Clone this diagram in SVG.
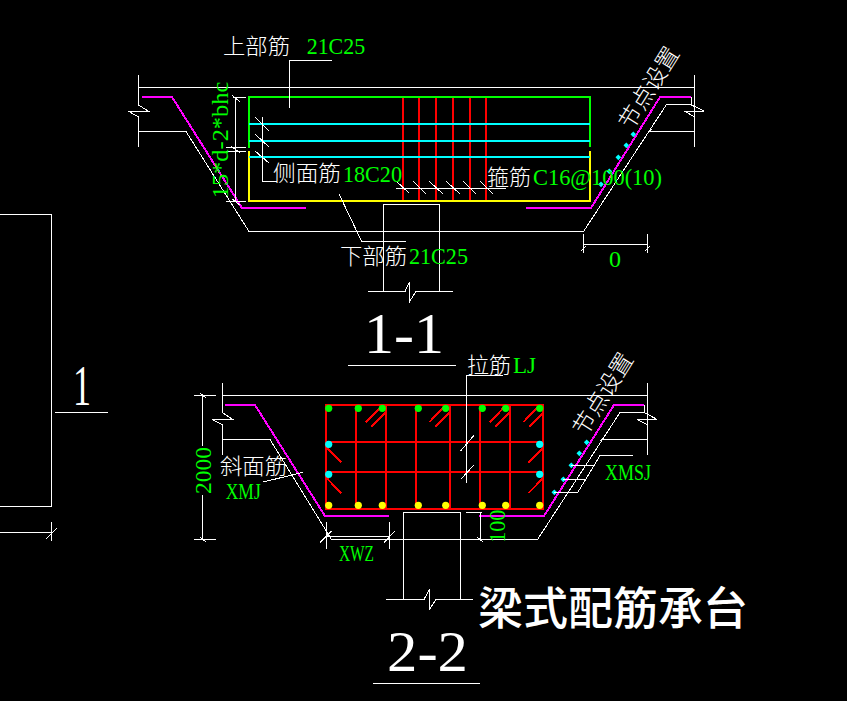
<svg xmlns="http://www.w3.org/2000/svg" width="847" height="701" viewBox="0 0 847 701">
<style>
path{shape-rendering:crispEdges}
.w{fill:none;stroke:#fff;stroke-width:1}
.m{fill:none;stroke:#f0f;stroke-width:2}
.r{fill:none;stroke:#f00;stroke-width:2}
.g{fill:none;stroke:#0f0;stroke-width:2}
.y{fill:none;stroke:#ff0;stroke-width:2}
.c{fill:none;stroke:#0ff;stroke-width:2}
.cn{font-family:"Noto Sans CJK SC","Noto Sans",sans-serif;fill:#fff;font-size:22px;font-weight:300}
.gt{font-family:"Liberation Serif",serif;fill:#0f0;font-size:24px}
.big{font-family:"Liberation Serif",serif;fill:#fff;font-size:56px}
</style>
<defs>
<circle id="dg" r="3.6" fill="#0f0"/>
<circle id="dy" r="3.6" fill="#ff0"/>
<circle id="dc" r="3.6" fill="#0ff"/>
<rect id="dd" x="-2" y="-2" width="4" height="4" fill="#0ff" transform="rotate(45)"/>
</defs>
<rect width="847" height="701" fill="#000"/>

<g id="left-column">
<path class="w" d="M0 214.500H51.500V506.500H0M0 532.500H51.500M51.500 522V541M46 539L57 528"/>
<path class="w" d="M55 412.500H108"/>
<text class="big" x="73" y="404.500" textLength="18" lengthAdjust="spacingAndGlyphs">1</text>
</g>

<g id="section-1-1">
<path class="w" d="M139 87.500H694.500M138.500 75V105L148 111H128L138.500 117V147M138.500 131.500H186L249 231.500H583.500L666.500 104.500H691.500M691.500 97V105L704 111H684L695 117M694.500 75V147M650 131.500H694.500M648 133L652 129"/>
<path class="m" d="M142 97H172L242 208H306M526 208H591L660 97H691"/>
<path class="r" d="M403 97V201M419 97V201M436 97V201M453 97V201M470 97V201M486 97V201"/>
<path class="g" d="M249 148V97H590V147"/>
<path class="y" d="M249 151V201H590V151"/>
<path class="c" d="M249 124H590M249 141H590M249 157H590"/>
<path class="w" d="M233 97.500H246M226 147.500H246M226 151.500H246M226 201.500H246M235.500 97V201M232 95L240 102M231 146L240 153M232 199L240 205"/>
<path class="w" d="M332 60.500H289.500V108M262.500 117V181.500H277M255 117L269 131M255 134L269 147M255 151L269 163M339 194L361.700 241.500H406"/>
<path class="w" d="M396 188.500H506M396 181L409 193M413 181L426 194M429 181L443 194M446 181L460 194M463 181L476 194M480 181L493 194"/>
<path class="w" d="M383.500 291V204.500H439.500V291M368 291.500H405L409.500 281.700V301.700L416 291.500H452.700"/>
<path class="w" d="M583.500 234V252.700M647.500 234V252.700M583.500 244.500H647.500M581 251L586 246M645 251L650 246"/>
<use href="#dd" x="633.300" y="134.300"/><use href="#dd" x="626.300" y="145.300"/><use href="#dd" x="618.300" y="157.300"/><use href="#dd" x="609.300" y="171.300"/><use href="#dd" x="601" y="184.300"/>
<text class="cn" x="223" y="54" textLength="67" lengthAdjust="spacingAndGlyphs">上部筋</text>
<text class="gt" x="306.700" y="54" textLength="58.500" lengthAdjust="spacingAndGlyphs">21C25</text>
<text class="cn" x="273" y="181" textLength="68" lengthAdjust="spacingAndGlyphs">侧面筋</text>
<text class="gt" x="343" y="181.500" textLength="59" lengthAdjust="spacingAndGlyphs">18C20</text>
<text class="cn" x="340" y="264" textLength="67" lengthAdjust="spacingAndGlyphs">下部筋</text>
<text class="gt" x="409" y="264" textLength="59" lengthAdjust="spacingAndGlyphs">21C25</text>
<text class="cn" x="487" y="185" textLength="44" lengthAdjust="spacingAndGlyphs">箍筋</text>
<text class="gt" x="533" y="184.500" textLength="129" lengthAdjust="spacingAndGlyphs">C16@100(10)</text>
<text class="gt" x="609" y="266.700" textLength="12" lengthAdjust="spacingAndGlyphs">0</text>
<text class="gt" transform="translate(228 198.300) rotate(-90)" textLength="116.600" lengthAdjust="spacingAndGlyphs">15*d-2*bhc</text>
<text class="cn" transform="translate(649 88) rotate(-58)" y="8" text-anchor="middle" style="font-size:23px">节点设置</text>
<path class="w" d="M348 365.500H456"/>
<text class="big" x="364" y="353" textLength="80" lengthAdjust="spacingAndGlyphs">1-1</text>
</g>

<g id="section-2-2">
<path class="w" d="M222.500 395.500H647.500M222.500 383V412.700L232.700 419.500H212.300L222.500 425V455M222.500 439.500H270L331.500 539.500H537.500L620 412.500H644M644 405V412.500L657.300 419.500H637.300L647.500 425M647.500 383V455M601.500 439.500H647.500M600 441L604 437"/>
<path class="m" d="M225 405H255L325 516H389M479 516H544L614 405H644"/>
<path class="r" d="M326 405H543V509H326ZM356 405V509M386 405V509M416 405V509M450 405V509M480 405V509M510 405V509M326 442H543M326 472H543"/>
<path class="r" d="M366 422.300L380.700 407.300M371.700 426.700L385.700 412.300M429.300 422.300L443.300 407.300M435.300 426.700L449.300 412.300M490 422.300L504 407.300M495.300 426.700L509.300 412.300M523.300 422.300L537.300 407.300M529.300 426.700L543.300 412.300M326 447.300L341.300 462.300M326 477.300L341.300 493.300M528.300 462.700L543 448.300M528.300 493.300L543 478.300"/>
<use href="#dg" x="328.700" y="408.300"/><use href="#dg" x="358.300" y="408.300"/><use href="#dg" x="382.300" y="408.300"/><use href="#dg" x="418.300" y="408.300"/><use href="#dg" x="445.700" y="408.300"/><use href="#dg" x="482.300" y="408.300"/><use href="#dg" x="505.700" y="408.300"/><use href="#dg" x="539.700" y="408.300"/>
<use href="#dy" x="328.700" y="505.300"/><use href="#dy" x="358.300" y="505.300"/><use href="#dy" x="382.300" y="505.300"/><use href="#dy" x="418.300" y="505.300"/><use href="#dy" x="445.700" y="505.300"/><use href="#dy" x="482.300" y="505.300"/><use href="#dy" x="505.700" y="505.300"/><use href="#dy" x="539.700" y="505.300"/>
<use href="#dc" x="328.700" y="444.300"/><use href="#dc" x="328.700" y="474.300"/><use href="#dc" x="539.700" y="444.300"/><use href="#dc" x="539.700" y="474.300"/>
<use href="#dd" x="586.700" y="442.300"/><use href="#dd" x="579.300" y="453.300"/><use href="#dd" x="571.300" y="465.300"/><use href="#dd" x="563.300" y="479.300"/><use href="#dd" x="554.300" y="492.300"/>
<path class="w" d="M502.700 375.500H466.500V482.700M460.700 450.700L474 435.300M461.300 478.700L474 465"/>
<path class="w" d="M633.300 455.500H600L577.700 492.500H554.300M563.300 479.500H585.700M571.300 465.500H594"/>
<path class="w" d="M466 512.500H481.700M480.500 512.500V539.500M477.300 537.300L483.300 542.300"/>
<path class="w" d="M194 395.500H216M194 539.500H216M202.500 395.300V446M202.500 495V539.300M200 393L206 398M200 537L206 542"/>
<path class="w" d="M263.300 482L302.700 472.300"/>
<path class="w" d="M326.500 522V549M389.500 522V549M326.500 536.500H389.500M320 542.700L331.700 531M384 542.700L395 531"/>
<path class="w" d="M403.500 599.500V512.500H460.500V599.500M386 599.500H424L429.500 589.300V609.300L436 599.500H472.700"/>
<text class="cn" x="467" y="373" textLength="44" lengthAdjust="spacingAndGlyphs">拉筋</text>
<text class="gt" x="513" y="373" textLength="23" lengthAdjust="spacingAndGlyphs">LJ</text>
<text class="cn" x="220" y="474" textLength="67" lengthAdjust="spacingAndGlyphs">斜面筋</text>
<text class="gt" x="225.700" y="499" textLength="35" lengthAdjust="spacingAndGlyphs">XMJ</text>
<text class="gt" x="339" y="561" textLength="35" lengthAdjust="spacingAndGlyphs">XWZ</text>
<text class="gt" x="605" y="480" textLength="46" lengthAdjust="spacingAndGlyphs">XMSJ</text>
<text class="gt" transform="translate(210.700 494) rotate(-90)" textLength="47" lengthAdjust="spacingAndGlyphs">2000</text>
<text class="gt" transform="translate(505 542.700) rotate(-90)" textLength="33" lengthAdjust="spacingAndGlyphs">100</text>
<text class="cn" transform="translate(603 394) rotate(-58)" y="8" text-anchor="middle" style="font-size:23px">节点设置</text>
<path class="w" d="M373 683.500H480"/>
<text class="big" x="387" y="670.500" textLength="81" lengthAdjust="spacingAndGlyphs">2-2</text>
</g>

<g id="title">
<text class="cn" x="478" y="625" textLength="270" lengthAdjust="spacingAndGlyphs" style="font-size:45px;font-weight:500">梁式配筋承台</text>
</g>
</svg>
